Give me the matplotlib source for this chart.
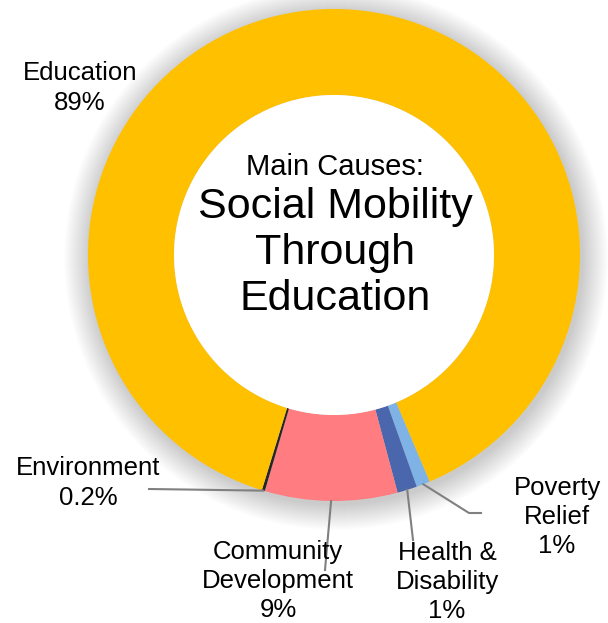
import numpy as np
import matplotlib.pyplot as plt
from matplotlib.patches import Circle

# Main causes - share of giving (clockwise from Poverty Relief)
categories = ['Poverty\nRelief', 'Health &\nDisability', 'Community\nDevelopment',
              'Environment', 'Education']
values = [0.9, 1.3, 8.7, 0.2, 88.9]
colors = ['#7FB2E5', '#4A66AC', '#FF7C80', '#262626', '#FFC000']

# label centres in pixel coords (x, y from top)
label_pos = [(557, 517), (447, 582), (278, 581), (88, 483), (80, 88)]
# leader line end points (label side), pixels from top
leader_ends = [[(469, 513), (481, 513)], [(413, 540)], [(325, 570)], [(149, 489)], None]

W, H = 608, 623
cx, cy = 334, 255
R, r_in = 246, 160


def pct_text(v):
    return f'{v:.1f}%' if v < 0.5 else f'{v:.0f}%'


fig = plt.figure(figsize=(W / 100, H / 100), dpi=100)
ax = fig.add_axes([0, 0, 1, 1])

# soft shadow around the ring
for k in range(26, 0, -1):
    ax.add_patch(Circle((cx + 2, H - cy - 3), R + k, color='#000000',
                        alpha=0.007, lw=0, zorder=0))

wedges, _ = ax.pie(values, colors=colors, startangle=-67.1, counterclock=False,
                   center=(cx, H - cy), radius=R,
                   wedgeprops=dict(width=R - r_in, linewidth=0), frame=True)
ax.add_patch(Circle((cx, H - cy), r_in, color='white', lw=0, zorder=3))
ax.set_xlim(0, W)
ax.set_ylim(0, H)
ax.set_aspect('equal')
ax.axis('off')

for i, w in enumerate(wedges):
    lab = categories[i] + '\n' + pct_text(values[i])
    lx, ly = label_pos[i]
    ax.text(lx, H - ly, lab, ha='center', va='center', fontsize=18.5,
            family='Liberation Sans', linespacing=1.27, zorder=5)
    if leader_ends[i] is None:
        continue
    ang = np.deg2rad((w.theta1 + w.theta2) / 2)
    px = cx + R * np.cos(ang)
    py = (H - cy) + R * np.sin(ang)
    xs = [px] + [p[0] for p in leader_ends[i]]
    ys = [py] + [H - p[1] for p in leader_ends[i]]
    ax.plot(xs, ys, color='#808080', lw=1.5, zorder=4)

ax.text(cx + 1, H - 167, 'Main Causes:', ha='center', va='center', fontsize=21,
        family='Liberation Sans', zorder=5)
ax.text(cx + 1, H - 253, 'Social Mobility\nThrough\nEducation', ha='center', va='center',
        fontsize=31, family='Liberation Sans', linespacing=1.18, zorder=5)

fig.savefig('out.png', dpi=100, facecolor='white')
